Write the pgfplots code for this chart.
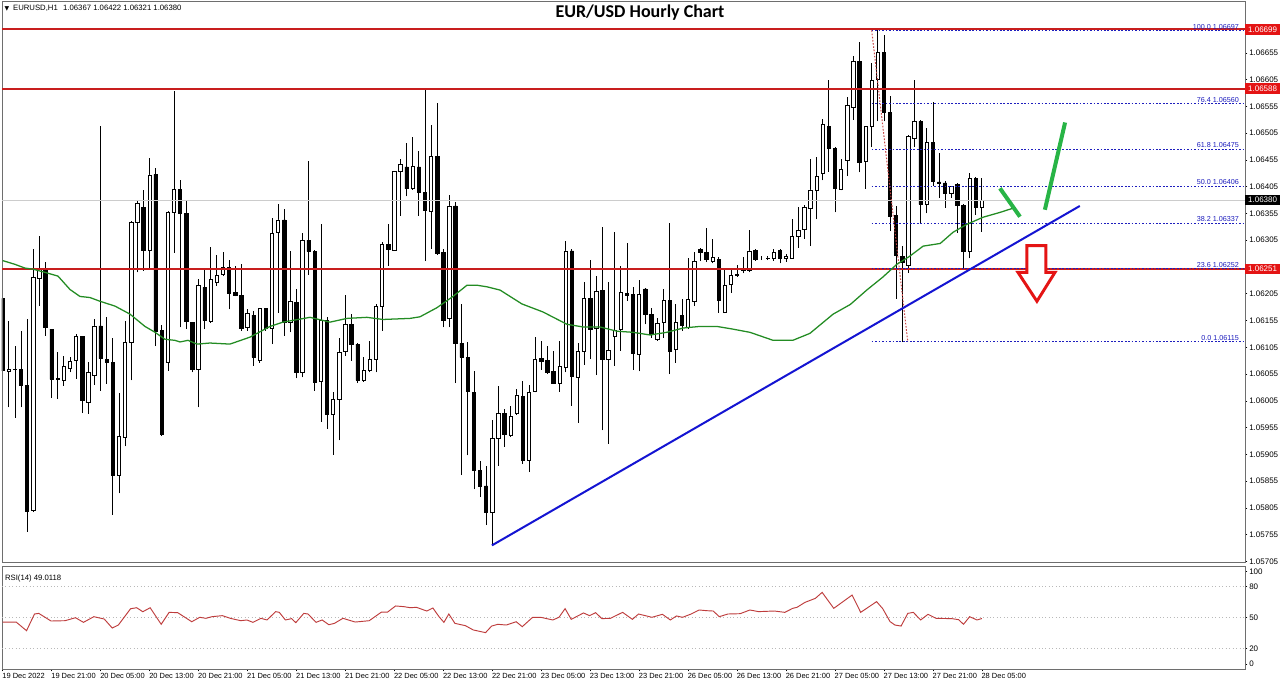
\documentclass[border=0pt]{standalone}
\usepackage{pgfplots}
\pgfplotsset{compat=1.18}
\usepackage{pgfplotstable}
\usepackage{fontspec}
\setmainfont{Liberation Sans}
\newfontfamily\titlefont{Carlito}
\newfontfamily\symfont{DejaVu Sans}
\definecolor{lred}{RGB}{200,30,30}
\definecolor{boxred}{RGB}{228,20,20}
\definecolor{fibblue}{RGB}{30,30,190}
\definecolor{trendblue}{RGB}{20,20,210}
\definecolor{magreen}{RGB}{35,140,35}
\definecolor{arrgreen}{RGB}{40,180,70}
\definecolor{rsired}{RGB}{190,60,60}
\definecolor{fibred}{RGB}{200,70,70}
\definecolor{framegray}{RGB}{110,110,110}
\newcommand\lab{\fontsize{6}{7}\selectfont}
\newcommand\xlab{\fontsize{5.6}{6.5}\selectfont}
\newcommand\fiblab{\fontsize{5.4}{6}\selectfont}

\pgfplotstableread{
i O H L C
0 1.06196 1.06201 1.06043 1.06061
1 1.06060 1.06155 1.05993 1.06064
2 1.06064 1.06107 1.05973 1.06063
3 1.06064 1.06136 1.05993 1.06033
4 1.06033 1.06158 1.05760 1.05799
5 1.05801 1.06288 1.05797 1.06235
6 1.06233 1.06313 1.06182 1.06251
7 1.06251 1.06265 1.06127 1.06142
8 1.06139 1.06140 1.06010 1.06045
9 1.06047 1.06096 1.06009 1.06045
10 1.06043 1.06089 1.06033 1.06069
11 1.06066 1.06086 1.06058 1.06078
12 1.06080 1.06130 1.06046 1.06125
13 1.06125 1.06127 1.05982 1.06005
14 1.06002 1.06077 1.05981 1.06058
15 1.06053 1.06158 1.06035 1.06145
16 1.06145 1.06518 1.06024 1.06084
17 1.06083 1.06161 1.06037 1.06076
18 1.06076 1.06123 1.05792 1.05866
19 1.05866 1.06019 1.05832 1.05939
20 1.05937 1.06155 1.05920 1.06114
21 1.06114 1.06341 1.06043 1.06338
22 1.06338 1.06381 1.06245 1.06374
23 1.06366 1.06399 1.06248 1.06287
24 1.06287 1.06459 1.06251 1.06427
25 1.06428 1.06440 1.06107 1.06134
26 1.06136 1.06146 1.05940 1.05943
27 1.06076 1.06359 1.06061 1.06358
28 1.06358 1.06584 1.06282 1.06400
29 1.06400 1.06417 1.06142 1.06355
30 1.06355 1.06379 1.06139 1.06153
31 1.06151 1.06152 1.06058 1.06063
32 1.06063 1.06232 1.05993 1.06220
33 1.06217 1.06254 1.06139 1.06155
34 1.06153 1.06293 1.06150 1.06232
35 1.06227 1.06277 1.06220 1.06240
36 1.06241 1.06283 1.06238 1.06254
37 1.06254 1.06268 1.06176 1.06205
38 1.06207 1.06257 1.06200 1.06202
39 1.06202 1.06260 1.06136 1.06140
40 1.06142 1.06176 1.06136 1.06169
41 1.06165 1.06173 1.06071 1.06086
42 1.06080 1.06179 1.06076 1.06177
43 1.06177 1.06179 1.06136 1.06140
44 1.06140 1.06347 1.06111 1.06318
45 1.06319 1.06372 1.06170 1.06343
46 1.06343 1.06364 1.06127 1.06151
47 1.06151 1.06285 1.06133 1.06190
48 1.06189 1.06214 1.06047 1.06058
49 1.06058 1.06319 1.06049 1.06305
50 1.06305 1.06453 1.06241 1.06284
51 1.06284 1.06286 1.06024 1.06040
52 1.06041 1.06336 1.05966 1.06155
53 1.06155 1.06161 1.05953 1.05979
54 1.05979 1.06021 1.05904 1.06007
55 1.06007 1.06122 1.05931 1.06096
56 1.06097 1.06202 1.06089 1.06147
57 1.06147 1.06167 1.06080 1.06111
58 1.06111 1.06113 1.06038 1.06043
59 1.06043 1.06086 1.06041 1.06061
60 1.06061 1.06117 1.06058 1.06082
61 1.06082 1.06186 1.06058 1.06181
62 1.06181 1.06302 1.06136 1.06297
63 1.06297 1.06336 1.06257 1.06288
64 1.06287 1.06434 1.06285 1.06433
65 1.06433 1.06457 1.06351 1.06446
66 1.06442 1.06486 1.06387 1.06401
67 1.06401 1.06498 1.06399 1.06443
68 1.06442 1.06471 1.06351 1.06395
69 1.06395 1.06590 1.06266 1.06361
70 1.06359 1.06521 1.06289 1.06461
71 1.06462 1.06561 1.06278 1.06280
72 1.06283 1.06288 1.06142 1.06156
73 1.06159 1.06390 1.06142 1.06369
74 1.06369 1.06376 1.06038 1.06113
75 1.06113 1.06186 1.05866 1.06086
76 1.06086 1.06114 1.05903 1.06022
77 1.06021 1.06060 1.05840 1.05875
78 1.05875 1.05892 1.05825 1.05846
79 1.05846 1.05884 1.05773 1.05796
80 1.05796 1.05970 1.05735 1.05934
81 1.05934 1.06033 1.05884 1.05982
82 1.05981 1.05990 1.05919 1.05943
83 1.05940 1.05995 1.05937 1.05976
84 1.05981 1.06028 1.05979 1.06016
85 1.06014 1.06043 1.05887 1.05894
86 1.05894 1.06035 1.05872 1.06021
87 1.06022 1.06125 1.06021 1.06083
88 1.06084 1.06117 1.06063 1.06078
89 1.06080 1.06107 1.06055 1.06058
90 1.06060 1.06099 1.06037 1.06038
91 1.06038 1.06117 1.06022 1.06069
92 1.06068 1.06304 1.06058 1.06285
93 1.06285 1.06288 1.05996 1.06051
94 1.06049 1.06113 1.05964 1.06097
95 1.06097 1.06227 1.06072 1.06196
96 1.06196 1.06269 1.06083 1.06139
97 1.06140 1.06238 1.06053 1.06210
98 1.06212 1.06330 1.05950 1.06082
99 1.06082 1.06227 1.05925 1.06099
100 1.06125 1.06320 1.06071 1.06136
101 1.06138 1.06257 1.06099 1.06207
102 1.06206 1.06300 1.06192 1.06202
103 1.06204 1.06218 1.06063 1.06094
104 1.06092 1.06231 1.06060 1.06204
105 1.06214 1.06215 1.06148 1.06167
106 1.06167 1.06179 1.06123 1.06130
107 1.06119 1.06159 1.06117 1.06150
108 1.06151 1.06214 1.06123 1.06192
109 1.06192 1.06338 1.06055 1.06097
110 1.06102 1.06186 1.06076 1.06151
111 1.06164 1.06196 1.06136 1.06146
112 1.06142 1.06271 1.06140 1.06195
113 1.06190 1.06283 1.06182 1.06266
114 1.06288 1.06290 1.06266 1.06283
115 1.06283 1.06327 1.06264 1.06269
116 1.06266 1.06307 1.06262 1.06273
117 1.06269 1.06273 1.06170 1.06192
118 1.06170 1.06254 1.06169 1.06221
119 1.06223 1.06254 1.06207 1.06240
120 1.06240 1.06258 1.06237 1.06241
121 1.06248 1.06273 1.06243 1.06249
122 1.06248 1.06325 1.06245 1.06285
123 1.06286 1.06289 1.06267 1.06270
124 1.06271 1.06275 1.06268 1.06271
125 1.06271 1.06275 1.06268 1.06272
126 1.06271 1.06289 1.06267 1.06282
127 1.06286 1.06289 1.06262 1.06271
128 1.06271 1.06280 1.06265 1.06275
129 1.06271 1.06345 1.06270 1.06312
130 1.06312 1.06368 1.06291 1.06323
131 1.06326 1.06371 1.06308 1.06366
132 1.06364 1.06457 1.06294 1.06399
133 1.06399 1.06461 1.06344 1.06425
134 1.06429 1.06531 1.06417 1.06522
135 1.06518 1.06605 1.06433 1.06477
136 1.06477 1.06480 1.06357 1.06401
137 1.06400 1.06457 1.06398 1.06438
138 1.06455 1.06573 1.06425 1.06557
139 1.06554 1.06649 1.06530 1.06639
140 1.06639 1.06676 1.06432 1.06451
141 1.06452 1.06519 1.06401 1.06518
142 1.06518 1.06637 1.06479 1.06603
143 1.06605 1.06697 1.06527 1.06656
144 1.06656 1.06688 1.06527 1.06544
145 1.06544 1.06574 1.06322 1.06350
146 1.06351 1.06369 1.06196 1.06277
147 1.06274 1.06294 1.06115 1.06263
148 1.06258 1.06502 1.06244 1.06499
149 1.06496 1.06605 1.06480 1.06527
150 1.06527 1.06530 1.06336 1.06372
151 1.06372 1.06515 1.06355 1.06487
152 1.06488 1.06564 1.06406 1.06415
153 1.06414 1.06468 1.06384 1.06411
154 1.06412 1.06415 1.06366 1.06392
155 1.06393 1.06407 1.06384 1.06405
156 1.06409 1.06412 1.06319 1.06370
157 1.06370 1.06372 1.06253 1.06284
158 1.06284 1.06430 1.06271 1.06421
159 1.06421 1.06423 1.06353 1.06366
160 1.06367 1.06422 1.06321 1.06380
}\candles

\pgfplotstableread{
i p
0 1.06267
2.0 1.06260
3.64 1.06253
4.95 1.06251
6.91 1.06245
9.04 1.06238
11.0 1.06213
12.63 1.06200
14.26 1.06198
15.9 1.06191
18.35 1.06182
20.8 1.06167
23.25 1.06144
24.9 1.06133
26.52 1.06120
28.15 1.06118
28.97 1.06115
30.28 1.06118
31.75 1.06111
33.87 1.06113
37.14 1.06111
40.41 1.06124
43.68 1.06144
45.8 1.06152
50.21 1.06161
53.48 1.06152
56.26 1.06159
59.53 1.06161
62.14 1.06157
66.55 1.06159
68.19 1.06162
70.96 1.06179
73.58 1.06200
75.87 1.06221
77.5 1.06221
79.13 1.06218
81.26 1.06212
84.85 1.06186
88.29 1.06171
92.2 1.06148
94.82 1.06143
97.6 1.06143
100.4 1.06135
103.0 1.06133
105.8 1.06128
108.5 1.06133
111.2 1.06141
113.9 1.06144
116.7 1.06144
119.3 1.06139
122.1 1.06133
125.9 1.06118
129.1 1.06118
131.9 1.06131
135.7 1.06167
138.5 1.06185
141.2 1.06212
143.8 1.06236
146.1 1.06260
148.2 1.06275
150.4 1.06294
153.2 1.06299
155.3 1.06320
157.6 1.06335
160.2 1.06348
162.96 1.06357
165.4 1.06366
}\ma

\pgfplotstableread{
i v
0 45.6
2.2 45.6
3.9 37.2
5.2 53.4
5.9 54.0
7.9 46.6
10.2 46.9
11.9 49.8
13.2 45.3
14.9 50.8
16.6 48.5
17.9 39.8
18.9 42.7
20.9 58.5
21.9 59.5
22.9 55.6
24.1 59.5
25.9 43.4
27.2 55.0
28.6 54.7
30.9 45.9
32.2 50.2
33.2 49.2
34.2 50.8
35.9 51.8
37.2 49.2
38.9 46.9
39.9 47.6
40.9 45.3
42.2 49.2
43.2 47.6
44.6 55.7
45.2 55.0
46.2 47.6
47.2 48.9
47.9 45.0
49.2 54.0
49.9 53.4
51.2 45.3
52.2 47.6
53.3 43.0
54.2 44.3
55.6 49.2
57.6 45.6
59.9 46.9
61.9 55.3
62.9 55.3
64.2 61.2
65.6 60.5
66.6 59.5
67.6 59.9
69.3 56.3
70.3 59.2
71.3 50.8
72.1 45.3
72.9 53.4
73.9 44.3
75.6 42.1
76.9 37.9
78.9 35.3
79.9 41.7
80.9 43.4
82.3 42.7
83.9 45.9
84.9 41.1
86.6 50.2
87.9 50.2
89.9 47.6
90.9 50.2
91.9 58.6
92.9 48.2
94.9 54.4
95.9 51.8
96.9 54.7
97.9 48.9
99.3 49.2
101.3 55.0
102.9 48.2
103.9 53.4
104.1 53.1
106.1 50.2
107.8 53.1
109.1 47.6
110.1 51.5
111.1 50.2
112.5 53.4
113.8 57.3
115.1 56.6
116.1 56.3
117.1 50.8
118.5 53.4
120.5 53.7
122.1 57.3
123.5 55.7
126.1 56.3
127.8 55.0
129.1 58.9
129.8 59.9
131.1 64.7
132.8 68.6
133.9 74.4
135.8 58.9
138.8 71.8
140.2 55.0
142.8 65.4
143.8 58.6
145.0 46.0
145.8 42.7
146.8 41.7
147.9 54.0
148.8 55.0
150.0 47.6
151.2 53.1
152.5 49.2
155.1 48.9
156.2 47.9
157.0 43.4
158.0 50.8
159.2 47.6
160.0 49.0
}\rsi

\begin{document}
\begin{tikzpicture}[x=1pt,y=1pt]
\fill[white] (0,0) rectangle (960,514.5);
\pgfplotsset{
  mainax/.style={scale only axis, at={(1.5pt,92.625pt)}, anchor=south west,
    width=932.25pt, height=420.75pt, xmin=-0.11, xmax=203.0},
  fibline/.style={fibblue, dash pattern=on 1.3pt off 1.3pt, line width=0.7pt},
}
% wicks
\begin{axis}[mainax, ymin=1.05703, ymax=1.06751, hide axis]
\addplot[draw=none, mark=none, error bars/.cd, y dir=plus, y explicit,
  error mark=none, error bar style={draw=black, line width=0.6pt}]
  table[x=i, y=L, y error expr=\thisrow{H}-\thisrow{L}] {\candles};
\end{axis}
% bodies (pips above 1.05700)
\begin{axis}[mainax, ymin=3, ymax=1051, hide axis, ybar stacked, bar width=0.55]
\addplot[draw=none, fill=none] table[x=i, y expr={(min(\thisrow{O},\thisrow{C})-1.057)*100000}] {\candles};
\addplot[draw=black, fill=white, line width=0.55pt] table[x=i, y expr={max(\thisrow{C}-\thisrow{O},0)*100000}] {\candles};
\addplot[draw=black, fill=black, line width=0.55pt] table[x=i, y expr={max(\thisrow{O}-\thisrow{C},0)*100000}] {\candles};
\end{axis}
% annotations and frame
\begin{axis}[mainax, ymin=1.05703, ymax=1.06751, clip=false,
  axis line style={framegray, line width=0.6pt},
  xtick=\empty,
  ytick={1.05705,1.05755,1.05805,1.05855,1.05905,1.05955,1.06005,1.06055,1.06105,1.06155,1.06205,1.06305,1.06355,1.06405,1.06455,1.06505,1.06555,1.06605,1.06655},
  yticklabels={1.05705,1.05755,1.05805,1.05855,1.05905,1.05955,1.06005,1.06055,1.06105,1.06155,1.06205,1.06305,1.06355,1.06405,1.06455,1.06505,1.06555,1.06605,1.06655},
  ytick pos=right, yticklabel pos=right, tick align=outside, major tick length=1.8pt,
  tick style={black, line width=0.5pt},
  yticklabel style={font=\lab, anchor=west, inner sep=0pt, xshift=1.2pt},
  /pgf/number format/assume math mode=true]
\addplot[gray!40, line width=0.7pt] coordinates {(-0.11,1.06380) (203,1.06380)};
\addplot[lred, line width=1.5pt] coordinates {(-0.11,1.06699) (203,1.06699)};
\addplot[lred, line width=1.5pt] coordinates {(-0.11,1.06588) (203,1.06588)};
\addplot[lred, line width=1.5pt] coordinates {(-0.11,1.06251) (203,1.06251)};
% fibonacci levels
\addplot[fibline] coordinates {(142.0,1.06697) (203,1.06697)};
\addplot[fibline] coordinates {(142.0,1.06560) (203,1.06560)};
\addplot[fibline] coordinates {(142.0,1.06475) (203,1.06475)};
\addplot[fibline] coordinates {(142.0,1.06406) (203,1.06406)};
\addplot[fibline] coordinates {(142.0,1.06337) (203,1.06337)};
\addplot[fibline] coordinates {(142.0,1.06252) (203,1.06252)};
\addplot[fibline] coordinates {(142.0,1.06115) (203,1.06115)};
\addplot[fibred, dash pattern=on 1.2pt off 1.2pt, line width=0.75pt] coordinates {(142.0,1.06697) (147.9,1.06115)};
% moving average
\addplot[magreen, line width=0.95pt] table[x=i, y=p] {\ma};
% trend line
\addplot[trendblue, line width=1.5pt] coordinates {(79.95,1.05735) (176.0,1.06369)};
% hand-drawn arrows
\addplot[arrgreen, line width=3pt] coordinates {(162.96,1.06402) (166.23,1.06349)};
\addplot[arrgreen, line width=3pt] coordinates {(170.3,1.06362) (173.6,1.06525)};
\addplot[boxred, line width=2.2pt, fill=white, line join=miter] coordinates {(167.37,1.06295) (170.47,1.06295) (170.47,1.06245) (171.95,1.06245) (169.0,1.06191) (165.9,1.06245) (167.37,1.06245)} -- cycle;
% fib labels
\node[anchor=south east, inner sep=0.7pt, font=\fiblab, text=fibblue] at (axis cs:202.2,1.06697) {100.0 1.06697};
\node[anchor=south east, inner sep=0.7pt, font=\fiblab, text=fibblue] at (axis cs:202.2,1.06560) {76.4 1.06560};
\node[anchor=south east, inner sep=0.7pt, font=\fiblab, text=fibblue] at (axis cs:202.2,1.06475) {61.8 1.06475};
\node[anchor=south east, inner sep=0.7pt, font=\fiblab, text=fibblue] at (axis cs:202.2,1.06406) {50.0 1.06406};
\node[anchor=south east, inner sep=0.7pt, font=\fiblab, text=fibblue] at (axis cs:202.2,1.06337) {38.2 1.06337};
\node[anchor=south east, inner sep=0.7pt, font=\fiblab, text=fibblue] at (axis cs:202.2,1.06252) {23.6 1.06252};
\node[anchor=south east, inner sep=0.7pt, font=\fiblab, text=fibblue] at (axis cs:202.2,1.06115) {0.0 1.06115};
% price boxes on the scale
\node[fill=boxred, text=white, anchor=west, inner sep=0pt, minimum width=26pt, minimum height=8pt, font=\lab] at (axis cs:203,1.06699) {1.06699};
\node[fill=boxred, text=white, anchor=west, inner sep=0pt, minimum width=26pt, minimum height=8pt, font=\lab] at (axis cs:203,1.06588) {1.06588};
\node[fill=black, text=white, anchor=west, inner sep=0pt, minimum width=26pt, minimum height=8pt, font=\lab] at (axis cs:203,1.06380) {1.06380};
\node[fill=boxred, text=white, anchor=west, inner sep=0pt, minimum width=26pt, minimum height=8pt, font=\lab] at (axis cs:203,1.06251) {1.06251};
\end{axis}
% RSI panel
\begin{axis}[scale only axis, at={(1.5pt,12.75pt)}, anchor=south west,
  width=932.25pt, height=77.25pt, xmin=-0.11, xmax=203, ymin=0, ymax=100,
  axis line style={framegray, line width=0.6pt},
  xtick={0,8,...,160},
  xticklabels={19 Dec 2022,19 Dec 21:00,20 Dec 05:00,20 Dec 13:00,20 Dec 21:00,21 Dec 05:00,21 Dec 13:00,21 Dec 21:00,22 Dec 05:00,22 Dec 13:00,22 Dec 21:00,23 Dec 05:00,23 Dec 13:00,23 Dec 21:00,26 Dec 05:00,26 Dec 13:00,26 Dec 21:00,27 Dec 05:00,27 Dec 13:00,27 Dec 21:00,28 Dec 05:00},
  xtick pos=bottom,
  ytick={4.8,20,50,80,94.9}, yticklabels={0,20,50,80,100},
  ytick pos=right, yticklabel pos=right, tick align=outside, major tick length=1.8pt,
  tick style={black, line width=0.5pt},
  xticklabel style={font=\xlab, anchor=north west, inner sep=0pt, xshift=-0.4pt, yshift=-1.2pt},
  yticklabel style={font=\lab, anchor=west, inner sep=0pt, xshift=1.2pt},
  /pgf/number format/assume math mode=true]
\addplot[gray!55, dotted, line width=0.6pt] coordinates {(-0.11,80) (203,80)};
\addplot[gray!55, dotted, line width=0.6pt] coordinates {(-0.11,50) (203,50)};
\addplot[gray!55, dotted, line width=0.6pt] coordinates {(-0.11,20) (203,20)};
\addplot[rsired, line width=0.7pt] table[x=i, y=v] {\rsi};
\end{axis}
% texts
\node[font=\titlefont\bfseries\fontsize{13.5}{16}\selectfont] at (480,505.2) {EUR/USD Hourly Chart};
\node[anchor=west, inner sep=0pt, font=\fontsize{5.8}{7}\selectfont] at (3.2,508.6) {{\symfont\fontsize{4.5}{5}\selectfont ▼}\hspace{3pt}EURUSD,H1\hspace{4pt}1.06367 1.06422 1.06321 1.06380};
\node[anchor=west, inner sep=0pt, font=\fontsize{5.8}{7}\selectfont] at (3.6,81) {RSI(14) 49.0118};
\pgfresetboundingbox
\path[use as bounding box] (0,0) rectangle (960,514.5);
\end{tikzpicture}
\end{document}
